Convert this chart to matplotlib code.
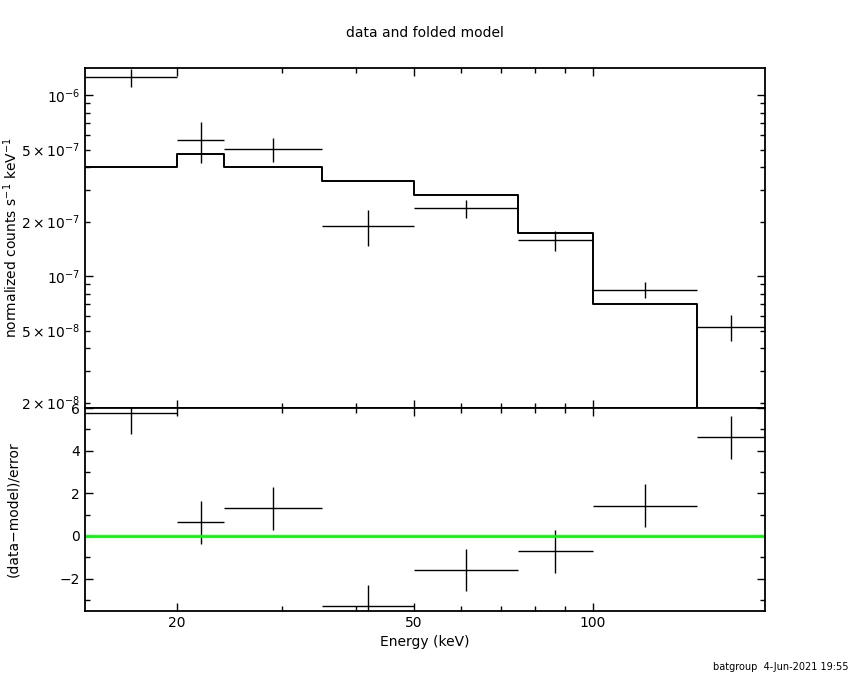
import numpy as np
import matplotlib.pyplot as plt
from matplotlib.ticker import FixedLocator, FuncFormatter, NullFormatter, MultipleLocator

# Energy bin edges (keV)
e_lo = [14, 20, 24, 35, 50, 75, 100, 150]
e_hi = [20, 24, 35, 50, 75, 100, 150, 195]

# Data: normalized counts s^-1 keV^-1 and 1-sigma errors
rate = [1.25e-6, 5.64e-7, 5.01e-7, 1.89e-7, 2.37e-7, 1.58e-7, 8.37e-8, 5.23e-8]
rate_err = [1.45e-7, 1.45e-7, 7.7e-8, 4.3e-8, 2.7e-8, 2.0e-8, 8.5e-9, 8.3e-9]

# Folded model per bin
model = [4.02e-7, 4.70e-7, 3.98e-7, 3.33e-7, 2.80e-7, 1.73e-7, 7.0e-8, 1.4e-8]

# Residuals (data-model)/error
resid = [5.77, 0.63, 1.29, -3.28, -1.60, -0.73, 1.42, 4.63]
resid_err = [1, 1, 1, 1, 1, 1, 1, 1]

e_lo = np.array(e_lo)
e_hi = np.array(e_hi)
e_mid = np.sqrt(e_lo * e_hi)

fig = plt.figure(figsize=(8.5, 6.8), dpi=100)
ax1 = fig.add_axes([0.1, 0.4, 0.8, 0.5])
ax2 = fig.add_axes([0.1, 0.1015, 0.8, 0.2985], sharex=ax1)

# upper panel
ax1.errorbar(e_mid, rate, xerr=[e_mid - e_lo, e_hi - e_mid], yerr=rate_err,
             fmt="none", ecolor="black", elinewidth=1.0, capsize=0)
step_x = np.append(e_lo, e_hi[-1])
step_y = np.append(model, model[-1])
ax1.step(step_x, step_y, where="post", color="black", lw=1.4)
ax1.set_xscale("log")
ax1.set_yscale("log")
ax1.set_xlim(14, 195)
ax1.set_ylim(1.866e-8, 1.41e-6)


def ylog_fmt(v, pos):
    exp = int(np.floor(np.log10(v) + 1e-9))
    mant = round(v / 10 ** exp)
    if mant == 1:
        return r"$10^{%d}$" % exp
    if mant in (2, 5):
        return r"$%d\times10^{%d}$" % (mant, exp)
    return ""


ax1.yaxis.set_major_locator(FixedLocator([1e-7, 1e-6]))
ax1.yaxis.set_minor_locator(FixedLocator([m * 10.0 ** k for k in (-8, -7, -6)
                                          for m in range(2, 10)]))
ax1.yaxis.set_major_formatter(FuncFormatter(ylog_fmt))
ax1.yaxis.set_minor_formatter(FuncFormatter(ylog_fmt))
ax1.set_ylabel(r"normalized counts s$^{-1}$ keV$^{-1}$", fontsize=10)
ax1.set_title("data and folded model", fontsize=10, pad=22)

# lower panel
ax2.errorbar(e_mid, resid, xerr=[e_mid - e_lo, e_hi - e_mid], yerr=resid_err,
             fmt="none", ecolor="black", elinewidth=1.0, capsize=0)
ax2.axhline(0, color="#00ff00", lw=2)
ax2.set_ylim(-3.52, 6.0)
ax2.yaxis.set_major_locator(MultipleLocator(2))
ax2.yaxis.set_minor_locator(MultipleLocator(1))
ax2.set_ylabel("(data\u2212model)/error", fontsize=10)
ax2.set_xlabel("Energy (keV)", fontsize=10)

for ax in (ax1, ax2):
    ax.xaxis.set_major_locator(FixedLocator([20, 50, 100]))
    ax.xaxis.set_minor_locator(FixedLocator([30, 40, 60, 70, 80, 90]))
    ax.xaxis.set_major_formatter(FuncFormatter(lambda v, p: "%d" % v))
    ax.xaxis.set_minor_formatter(NullFormatter())
    ax.tick_params(which="both", direction="in", top=True, right=True,
                   labelsize=10, width=1.0)
    ax.tick_params(which="major", length=6)
    ax.tick_params(which="minor", length=3.5)
    for s in ax.spines.values():
        s.set_linewidth(1.3)
ax1.tick_params(axis="x", labelbottom=False)

fig.text(0.998, 0.012, "batgroup  4-Jun-2021 19:55", ha="right", va="bottom", fontsize=7)
ax1.yaxis.set_label_coords(-0.095, 0.5)
ax2.yaxis.set_label_coords(-0.095, 0.5)

fig.savefig("out.png", dpi=100)
